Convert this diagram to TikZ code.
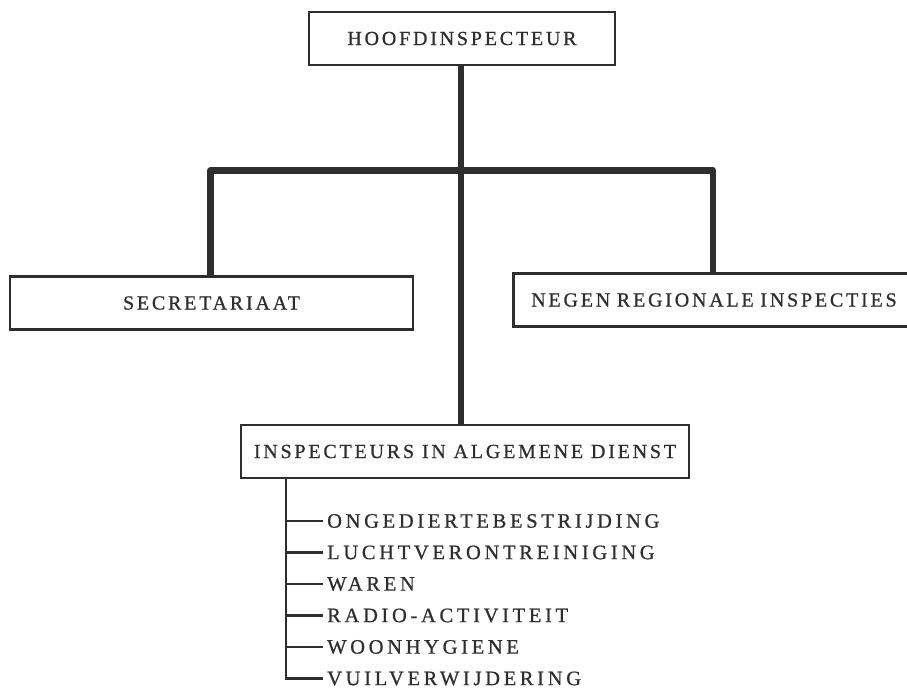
\documentclass[tikz,border=0pt]{standalone}
\usepackage{fontspec}
\setmainfont{Liberation Serif}[LetterSpace=14,FakeBold=0.8]
\newfontfamily\lijstfont{Liberation Serif}[LetterSpace=18,FakeBold=0.8]
\usetikzlibrary{positioning,calc}
\definecolor{inkgrey}{HTML}{2E2E2E}
\tikzset{
  org/unit/.style={draw=inkgrey, line width=2.6pt, minimum height=53pt, inner sep=0pt, text=inkgrey, font=\fontsize{20}{24}\selectfont},
  org/link/.style={draw=inkgrey, line width=6.5pt, line join=round},
  org/tree/.style={draw=inkgrey, line width=2.6pt},
  org/item/.style={anchor=west, inner sep=0pt, text=inkgrey, font=\lijstfont\fontsize{20.5}{24}\selectfont}
}

\begin{document}
\begin{tikzpicture}[x=1pt,y=-1pt]
  \useasboundingbox (0,0) rectangle (907,692);

  \node[org/unit, minimum width=306pt] (hoofd) at (462,38.5) {HOOFDINSPECTEUR};
  \node[org/unit, minimum width=403pt] (secr) at (211.5,303) {SECRETARIAAT};
  \node[org/unit, anchor=west, text width=380pt, inner xsep=18pt, align=left] (regio) at (512,300) {NEGEN REGIONALE INSPECTIES};
  \node[org/unit, minimum width=448pt] (algem) at (465,451.5) {INSPECTEURS IN ALGEMENE DIENST};

  \coordinate (split) at (461,170.5);
  \draw[org/link] (hoofd.south -| split) -- (algem.north -| split);
  \draw[org/link] (secr.north -| 210.5,0) -- (210.5,170.5) -- (713,170.5) -- (regio.north -| 713,0);

  % takken onder de algemene dienst
  \coordinate (stam) at (286,478);
  \foreach \y/\tak [count=\i] in {521/ONGEDIERTEBESTRIJDING, 552.5/LUCHTVERONTREINIGING, 584/WAREN,
      615.5/RADIO-ACTIVITEIT, 647/WOONHYGIENE, 678.5/VUILVERWIJDERING}{
    \node[org/item] (tak\i) at (327,\y) {\tak};
  }
  \foreach \i in {1,...,5}{
    \draw[org/tree] (stam |- tak\i.west) -- ++(37,0);
  }
  \draw[org/tree] (stam) -- (stam |- tak6.west) -- ++(37,0);
\end{tikzpicture}
\end{document}
